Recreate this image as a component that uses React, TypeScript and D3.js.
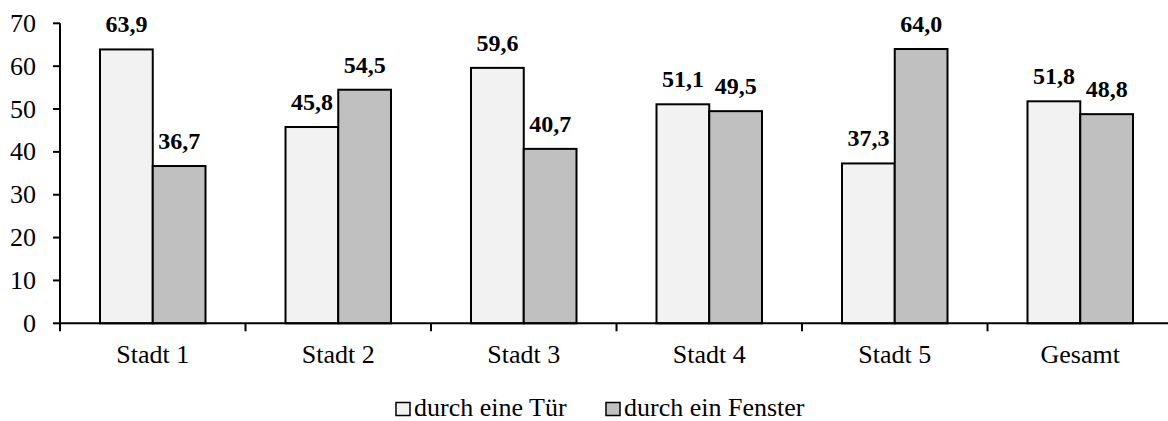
import * as React from 'react'
import * as d3 from 'd3'

const categories = ['Stadt 1', 'Stadt 2', 'Stadt 3', 'Stadt 4', 'Stadt 5', 'Gesamt']
const seriesNames = ['durch eine Tür', 'durch ein Fenster']
const doorValues = [63.9, 45.8, 59.6, 51.1, 37.3, 51.8]
const windowValues = [36.7, 54.5, 40.7, 49.5, 64.0, 48.8]
const yTicks = [0, 10, 20, 30, 40, 50, 60, 70]
const colors = ['#f2f2f2', '#c0c0c0']

const W = 1168
const H = 421
const font = "'Liberation Serif', Tinos, 'Times New Roman', 'DejaVu Serif', serif"

export default function App() {
    const y = d3.scaleLinear().domain([0, 70]).range([323.3, 23.3])
    const x0 = d3.scaleBand<string>().domain(categories).range([60, 1173]).padding(0)
    const x1 = d3.scaleBand<string>().domain(seriesNames).range([40, 145.5]).padding(0)
    const values = [doorValues, windowValues]
    const fmt = (v: number) => v.toFixed(1).replace('.', ',')

    return <svg width={W} height={H} style={{ position: 'absolute', left: 0, top: 0, background: '#fff', fontFamily: font }}>
        {/* bars */}
        {categories.map((c, i) => (
            <g key={c} transform={`translate(${x0(c)},0)`}>
                {seriesNames.map((s, j) => (
                    <g key={s}>
                        <rect x={x1(s)} y={y(values[j][i])} width={x1.bandwidth()}
                            height={y(0) - y(values[j][i])} fill={colors[j]} stroke='#000' strokeWidth={2} />
                        <text x={(x1(s) as number) + x1.bandwidth() / 2} y={y(values[j][i]) - 17}
                            textAnchor='middle' fontSize={24} fontWeight='bold'>{fmt(values[j][i])}</text>
                    </g>
                ))}
            </g>
        ))}
        {/* y axis */}
        <line x1={60} x2={60} y1={y(70)} y2={y(0)} stroke='#000' strokeWidth={2} />
        {yTicks.map(t => (
            <g key={t}>
                <line x1={53} x2={60} y1={y(t)} y2={y(t)} stroke='#000' strokeWidth={2} />
                <text x={36} y={y(t)} dy='0.33em' textAnchor='end' fontSize={26}>{t}</text>
            </g>
        ))}
        {/* x axis */}
        <line x1={60} x2={W} y1={y(0)} y2={y(0)} stroke='#000' strokeWidth={2} />
        {categories.map(c => (
            <g key={c}>
                <line x1={x0(c)} x2={x0(c)} y1={y(0)} y2={y(0) + 8} stroke='#000' strokeWidth={2} />
                <text x={(x0(c) as number) + x0.bandwidth() / 2} y={363} textAnchor='middle' fontSize={26}>{c}</text>
            </g>
        ))}
        {/* legend */}
        {seriesNames.map((s, j) => {
            const lx = [396, 606][j]
            return <g key={s}>
                <rect x={lx} y={402.5} width={14} height={13} fill={colors[j]} stroke='#000' strokeWidth={1.5} />
                <text x={lx + 18} y={416} fontSize={26}>{s}</text>
            </g>
        })}
    </svg>
}
